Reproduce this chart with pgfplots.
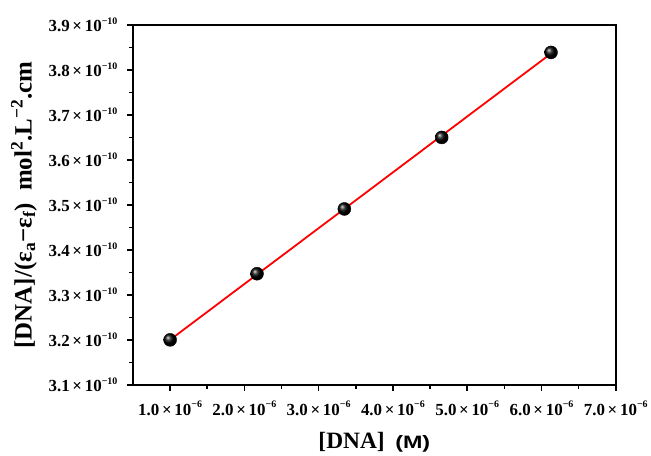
\documentclass[border=0pt]{standalone}
\usepackage{pgfplots}
\pgfplotsset{compat=1.18}
\usepackage{graphicx}
\usepackage{fontspec}
\setmainfont{Liberation Serif}
\newfontfamily\arialfont{Liberation Sans}
\newcommand\tl[2]{#1\hspace{0.16em}×\hspace{0.16em}10\raisebox{0.45em}{\fontsize{10}{10}\selectfont −#2}}
\begin{document}
\begin{tikzpicture}
\begin{axis}[
  name=ax,
  scale only axis,
  width=483bp, height=360bp,
  xmin=0.5, xmax=7, ymin=3.1, ymax=3.9,
  xtick={1,2,3,4,5,6,7},
  xticklabels={\tl{1.0}{6},\tl{2.0}{6},\tl{3.0}{6},\tl{4.0}{6},\tl{5.0}{6},\tl{6.0}{6},\tl{7.0}{6}},
  minor xtick={1.5,2.5,3.5,4.5,5.5,6.5},
  ytick={3.1,3.2,3.3,3.4,3.5,3.6,3.7,3.8,3.9},
  yticklabels={\tl{3.1}{10},\tl{3.2}{10},\tl{3.3}{10},\tl{3.4}{10},\tl{3.5}{10},\tl{3.6}{10},\tl{3.7}{10},\tl{3.8}{10},\tl{3.9}{10}},
  minor ytick={3.15,3.25,3.35,3.45,3.55,3.65,3.75,3.85},
  tick pos=left, tick align=outside,
  major tick length=6bp, minor tick length=4bp,
  every tick/.style={black, line width=1.6bp},
  axis line style={line width=1.8bp},
  ticklabel style={font=\fontsize{17}{20}\selectfont\bfseries},
  xticklabel style={yshift=-7bp},
  yticklabel style={xshift=-6bp},
  xlabel={\fontsize{23.5}{28}\selectfont\bfseries [DNA]\hspace{0.45em}{\arialfont\fontsize{18}{20}\selectfont\bfseries\scalebox{1.3}[1]{(M)}}},
  ylabel={\fontsize{25}{28}\selectfont\bfseries [DNA]/(ε\textsubscript{a}−ε\textsubscript{f})\hspace{0.5em}mol\textsuperscript{2}.L\textsuperscript{−2}.cm},
  xlabel style={yshift=-10bp},
  ylabel style={yshift=5bp},
  clip=false,
]
\addplot[red, line width=1.8bp] coordinates {(1.0,3.2001) (6.128,3.8365)};
\addplot[only marks, mark=ball, mark size=6.5bp, mark options={ball color=black}] coordinates {
(1.0,3.200) (2.170,3.347) (3.346,3.491) (4.657,3.650) (6.128,3.839)};
\end{axis}
\path ([xshift=-133bp,yshift=25bp]ax.north west) ([xshift=35bp,yshift=-69bp]ax.south east);
\end{tikzpicture}
\end{document}
